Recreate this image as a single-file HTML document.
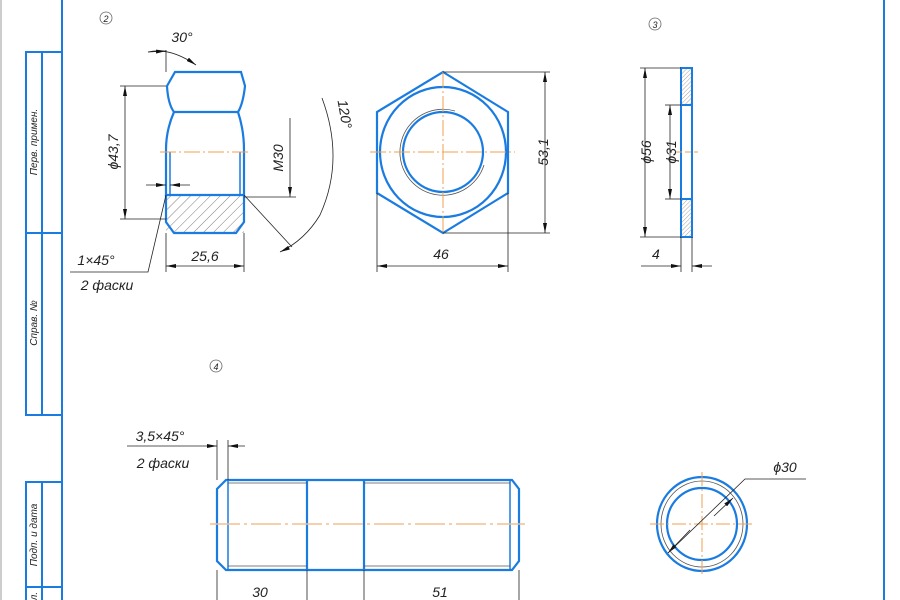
<!DOCTYPE html>
<html><head><meta charset="utf-8"><style>
html,body{margin:0;padding:0;background:#fff;width:900px;height:600px;overflow:hidden}
text{font-family:"Liberation Sans","DejaVu Sans",sans-serif;font-style:italic;fill:#222}
</style></head><body>
<svg width="900" height="600" viewBox="0 0 900 600" xmlns="http://www.w3.org/2000/svg">
<defs>
<pattern id="h" width="7" height="7" patternUnits="userSpaceOnUse" patternTransform="rotate(45)">
<line x1="0" y1="0" x2="0" y2="7" stroke="#444" stroke-width="0.7"/></pattern>
<pattern id="h2" width="3" height="3" patternUnits="userSpaceOnUse" patternTransform="rotate(45)">
<line x1="0" y1="0" x2="0" y2="3" stroke="#666" stroke-width="0.6"/></pattern>
<marker id="a" viewBox="0 0 10 4" refX="10" refY="2" markerWidth="10" markerHeight="4" orient="auto-start-reverse" markerUnits="userSpaceOnUse"><path d="M0,0L10,2L0,4z" fill="#111"/></marker>
</defs>
<g fill="none">
<!-- frame -->
<line x1="1" y1="0" x2="1" y2="600" stroke="#999" stroke-width="1"/>
<g stroke="#1a7be0" stroke-width="2">
<line x1="62" y1="0" x2="62" y2="600"/>
<line x1="884" y1="0" x2="884" y2="600"/>
<rect x="26" y="52" width="36" height="181"/>
<rect x="26" y="233" width="36" height="182"/>
<line x1="42" y1="52" x2="42" y2="415"/>
<rect x="26" y="482" width="36" height="105"/>
<line x1="42" y1="482" x2="42" y2="600"/>
<line x1="26" y1="587" x2="26" y2="600"/>
</g>
</g>
<text transform="translate(37,142) rotate(-90)" font-size="10" text-anchor="middle">Перв. примен.</text>
<text transform="translate(37,323) rotate(-90)" font-size="10" text-anchor="middle">Справ. №</text>
<text transform="translate(37,535) rotate(-90)" font-size="10" text-anchor="middle">Подп. и дата</text>
<text transform="translate(37,596) rotate(-90)" font-size="10" text-anchor="middle">л.</text>

<!-- circle numbers -->
<g fill="none" stroke="#666" stroke-width="0.8">
<circle cx="106" cy="18" r="6"/><circle cx="655" cy="24" r="6"/><circle cx="216" cy="366" r="6"/>
</g>
<text x="106" y="22" font-size="9" text-anchor="middle">2</text>
<text x="655" y="28" font-size="9" text-anchor="middle">3</text>
<text x="216" y="370" font-size="9" text-anchor="middle">4</text>

<!-- nut side view -->
<rect x="166" y="195" width="78" height="38" fill="url(#h)" stroke="none"/>
<g fill="none" stroke="#1a7be0" stroke-width="2.2">
<path d="M175,72 L241,72 L245,86 Q243,104 238,112 L174,112 Q168,104 167,86 Z"/>
<path d="M174,112 Q166,130 166,150 L166,195 L244,195 L244,150 Q244,130 238,112"/>
<path d="M166,195 L166,222 L174,233 L236,233 L244,222 L244,195"/>
</g>
<g stroke="#1a7be0" stroke-width="1.5"><line x1="170" y1="152" x2="170" y2="195"/><line x1="240" y1="152" x2="240" y2="195"/></g>
<line x1="160" y1="152" x2="250" y2="152" stroke="#f0a050" stroke-width="1" stroke-dasharray="16,3,2,3"/>
<g stroke="#222" stroke-width="0.8" fill="none">
<line x1="120" y1="86" x2="166" y2="86"/><line x1="120" y1="219" x2="166" y2="219"/>
<line x1="125" y1="86" x2="125" y2="219" marker-start="url(#a)" marker-end="url(#a)"/>
<line x1="244" y1="197" x2="296" y2="197"/>
<line x1="290" y1="118" x2="290" y2="197" marker-end="url(#a)"/>
<line x1="166" y1="233" x2="166" y2="272"/><line x1="244" y1="233" x2="244" y2="272"/>
<line x1="166" y1="266" x2="244" y2="266" marker-start="url(#a)" marker-end="url(#a)"/>
<line x1="146" y1="185" x2="166" y2="185" marker-end="url(#a)"/>
<line x1="190" y1="185" x2="170" y2="185" marker-end="url(#a)"/>
<path d="M166,195 L148,272 L70,272"/>
<line x1="166" y1="72" x2="166" y2="50"/>
<path d="M148,52 Q170,47 196,65" marker-end="url(#a)"/>
<line x1="148" y1="52" x2="166" y2="51" marker-end="url(#a)"/>
<line x1="244" y1="195" x2="292" y2="247"/>
<path d="M322,98 Q345,160 320,215 Q305,240 280,252" marker-end="url(#a)"/>
</g>
<text x="182" y="42" font-size="14" text-anchor="middle">30°</text>
<text transform="translate(118,152) rotate(-90)" font-size="14" text-anchor="middle">ϕ43,7</text>
<text transform="translate(283,158) rotate(-90)" font-size="14" text-anchor="middle">M30</text>
<text x="205" y="261" font-size="14" text-anchor="middle">25,6</text>
<text transform="translate(340,115) rotate(80)" font-size="14" text-anchor="middle">120°</text>
<text x="96" y="265" font-size="14" text-anchor="middle">1×45°</text>
<text x="107" y="290" font-size="14" text-anchor="middle">2 фаски</text>

<!-- hex view -->
<g fill="none" stroke="#1a7be0" stroke-width="2.2">
<polygon points="443,72 508,112 508,193 443,233 377,193 377,112"/>
<ellipse cx="443" cy="152" rx="63" ry="65"/>
<circle cx="443" cy="152" r="40"/>
</g>
<path d="M484,165 A43,43 0 1 1 455,111" fill="none" stroke="#555" stroke-width="0.8"/>
<g stroke="#f0a050" stroke-width="1" stroke-dasharray="16,3,2,3">
<line x1="370" y1="152" x2="515" y2="152"/><line x1="443" y1="72" x2="443" y2="233"/></g>
<g stroke="#222" stroke-width="0.8">
<line x1="443" y1="72" x2="550" y2="72"/><line x1="443" y1="233" x2="550" y2="233"/>
<line x1="545" y1="72" x2="545" y2="233" marker-start="url(#a)" marker-end="url(#a)"/>
<line x1="377" y1="193" x2="377" y2="272"/><line x1="508" y1="193" x2="508" y2="272"/>
<line x1="377" y1="266" x2="508" y2="266" marker-start="url(#a)" marker-end="url(#a)"/>
</g>
<text transform="translate(548,152) rotate(-90)" font-size="14" text-anchor="middle">53,1</text>
<text x="441" y="259" font-size="14" text-anchor="middle">46</text>

<!-- washer -->
<rect x="681" y="68" width="11" height="37" fill="url(#h2)"/>
<rect x="681" y="199" width="11" height="38" fill="url(#h2)"/>
<g fill="none" stroke="#1a7be0" stroke-width="2"><rect x="681" y="68" width="11" height="169"/>
<line x1="681" y1="105" x2="692" y2="105"/><line x1="681" y1="199" x2="692" y2="199"/></g>
<line x1="676" y1="152" x2="698" y2="152" stroke="#f0a050" stroke-dasharray="6,3"/>
<g stroke="#222" stroke-width="0.8">
<line x1="640" y1="68" x2="681" y2="68"/><line x1="640" y1="237" x2="681" y2="237"/>
<line x1="645" y1="68" x2="645" y2="237" marker-start="url(#a)" marker-end="url(#a)"/>
<line x1="665" y1="105" x2="681" y2="105"/><line x1="665" y1="199" x2="681" y2="199"/>
<line x1="670" y1="105" x2="670" y2="199" marker-start="url(#a)" marker-end="url(#a)"/>
<line x1="681" y1="237" x2="681" y2="272"/><line x1="692" y1="237" x2="692" y2="272"/>
<line x1="641" y1="266" x2="681" y2="266" marker-end="url(#a)"/>
<line x1="712" y1="266" x2="692" y2="266" marker-end="url(#a)"/>
</g>
<text transform="translate(651,152) rotate(-90)" font-size="14" text-anchor="middle">ϕ56</text>
<text transform="translate(676,152) rotate(-90)" font-size="14" text-anchor="middle">ϕ31</text>
<text x="652" y="259" font-size="14">4</text>

<!-- stud -->
<g fill="none" stroke="#1a7be0" stroke-width="2.2">
<path d="M226,480 L512,480 L519,489 L519,561 L512,570 L226,570 L217,561 L217,489 Z"/>
<line x1="307" y1="480" x2="307" y2="570"/><line x1="364" y1="480" x2="364" y2="570"/>
</g>
<g stroke="#1a7be0" stroke-width="1.5"><line x1="228" y1="480" x2="228" y2="570"/><line x1="510" y1="480" x2="510" y2="570"/></g>
<g stroke="#555" stroke-width="0.8"><line x1="228" y1="483" x2="307" y2="483"/><line x1="364" y1="483" x2="510" y2="483"/>
<line x1="228" y1="566" x2="307" y2="566"/><line x1="364" y1="566" x2="510" y2="566"/></g>
<line x1="210" y1="524" x2="525" y2="524" stroke="#f0c090" stroke-width="1.5" stroke-dasharray="30,4,3,4"/>
<g stroke="#222" stroke-width="0.8">
<line x1="217" y1="440" x2="217" y2="480"/><line x1="228" y1="440" x2="228" y2="480"/>
<line x1="127" y1="446" x2="217" y2="446" marker-end="url(#a)"/>
<line x1="245" y1="446" x2="228" y2="446" marker-end="url(#a)"/>
<line x1="217" y1="570" x2="217" y2="600"/><line x1="307" y1="570" x2="307" y2="600"/>
<line x1="364" y1="570" x2="364" y2="600"/><line x1="519" y1="570" x2="519" y2="600"/>
</g>
<text x="160" y="441" font-size="14" text-anchor="middle">3,5×45°</text>
<text x="163" y="468" font-size="14" text-anchor="middle">2 фаски</text>
<text x="260" y="597" font-size="14" text-anchor="middle">30</text>
<text x="440" y="597" font-size="14" text-anchor="middle">51</text>

<!-- stud end view -->
<g fill="none" stroke="#1a7be0" stroke-width="2.2">
<ellipse cx="702" cy="524" rx="45" ry="47"/><ellipse cx="702" cy="524" rx="35" ry="36"/></g>
<ellipse cx="702" cy="524" rx="41" ry="43" fill="none" stroke="#555" stroke-width="0.8"/>
<g stroke="#f0a050" stroke-width="1" stroke-dasharray="14,3,2,3">
<line x1="650" y1="524" x2="754" y2="524"/><line x1="702" y1="472" x2="702" y2="576"/></g>
<g stroke="#222" stroke-width="0.8" fill="none">
<line x1="690" y1="530" x2="668" y2="553" marker-end="url(#a)"/>
<path d="M714,516 L733,498" marker-end="url(#a)"/>
<path d="M668,553 L745,479 L806,479"/>
</g>
<text x="785" y="472" font-size="14" text-anchor="middle">ϕ30</text>
</svg>
</body></html>
